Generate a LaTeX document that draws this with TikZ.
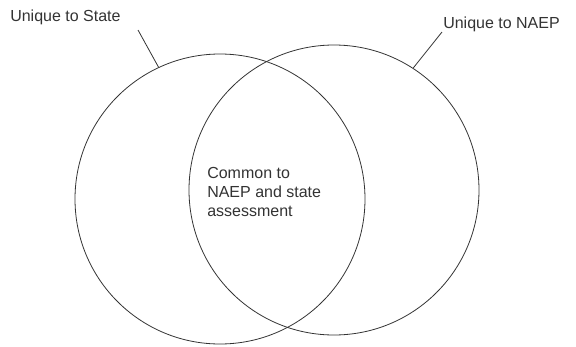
\documentclass[tikz,border=0pt]{standalone}
\usepackage{fontspec}
\setmainfont{Liberation Sans}
\usetikzlibrary{positioning}

\begin{document}
\begin{tikzpicture}[x=0.75pt,y=-0.75pt,
  venn/.style={circle,draw=black!80,line width=0.6pt,minimum size=217.5pt,inner sep=0pt},
  lbl/.style={font=\fontsize{12}{14.5}\selectfont,text=black!80,inner sep=0pt,align=left}]
\useasboundingbox (0,0) rectangle (576,347);
\node[venn](state)at(220,199){};
\node[venn](naep)at(334,190){};
\node[lbl,anchor=west](lblstate)at(10,17){Unique to State};
\node[lbl,anchor=west](lblnaep)at(443,24){Unique to NAEP};
\node[lbl,anchor=west](common)at(207,192){Common to\\NAEP and state\\assessment};
\coordinate(s1)at(138,30);
\coordinate(n1)at(442,32);
\draw[black!80,line width=0.6pt](s1)--(state.115);
\draw[black!80,line width=0.6pt](n1)--(naep.57);
\end{tikzpicture}
\end{document}
